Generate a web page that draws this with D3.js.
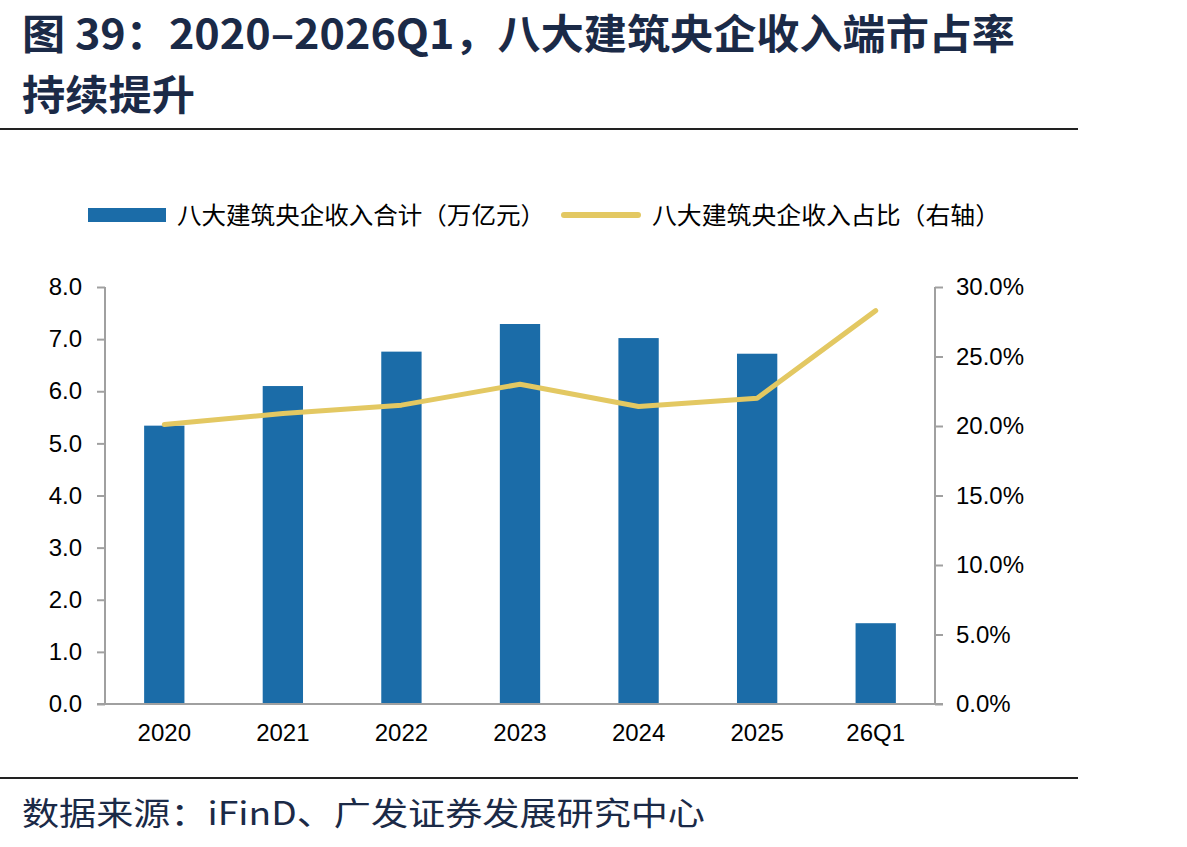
<!DOCTYPE html>
<html><head><meta charset="utf-8">
<script src="https://cdn.jsdelivr.net/npm/d3@7"></script>
<style>body{margin:0;background:#fff;} svg{display:block;}</style>
</head><body>
<svg id="c" width="1187" height="847"></svg>
<script>
const categories = ["2020","2021","2022","2023","2024","2025","26Q1"];
const revenue = [5.34, 6.10, 6.76, 7.29, 7.02, 6.72, 1.55];
const share = [20.1, 20.9, 21.5, 23.0, 21.4, 22.0, 28.3];
const leftTicks = [0,1,2,3,4,5,6,7,8];
const rightTicks = [0,5,10,15,20,25,30];
const titleLines = ["图 39：2020–2026Q1，八大建筑央企收入端市占率","持续提升"];
const legendLabels = ["八大建筑央企收入合计（万亿元）","八大建筑央企收入占比（右轴）"];
const sourceText = "数据来源：iFinD、广发证券发展研究中心";

const svg = d3.select("#c");
const cjk = "'Noto Sans CJK SC', sans-serif";
const latin = "'Liberation Sans', Arial, sans-serif";
const titleColor = "#1b2a47";
const barColor = "#1b6ca8";
const lineColor = "#e3c862";
const axisColor = "#a0a0a0";

// Title
const tLen = [993, 173];
svg.selectAll("text.title").data(titleLines).enter().append("text")
  .attr("class","title")
  .attr("x", 22).attr("y", (d,i)=> 49 + i*61)
  .attr("font-family", cjk).attr("font-weight", 700).attr("font-size", 41)
  .attr("fill", titleColor)
  .attr("textLength",(d,i)=>tLen[i]).attr("lengthAdjust","spacingAndGlyphs")
  .text(d=>d);
svg.append("line").attr("x1",0).attr("x2",1078).attr("y1",129).attr("y2",129)
  .attr("stroke","#222").attr("stroke-width",2);
svg.append("line").attr("x1",0).attr("x2",1078).attr("y1",778).attr("y2",778)
  .attr("stroke","#222").attr("stroke-width",2);
svg.append("text").attr("x",22).attr("y",825)
  .attr("font-family", cjk).attr("font-size",32).attr("fill",titleColor)
  .attr("textLength",683).attr("lengthAdjust","spacingAndGlyphs").text(sourceText);

// Scales
const x0 = 105, x1 = 935, yTop = 287, yBot = 704;
const x = d3.scaleBand().domain(categories).range([x0,x1]).paddingInner(0.66).paddingOuter(0.33);
const yL = d3.scaleLinear().domain([0,8]).range([yBot,yTop]);
const yR = d3.scaleLinear().domain([0,30]).range([yBot,yTop]);

// Bars
svg.append("g").selectAll("rect").data(revenue).enter().append("rect")
  .attr("x",(d,i)=>x(categories[i])).attr("width",x.bandwidth())
  .attr("y",d=>yL(d)).attr("height",d=>yBot-yL(d))
  .attr("fill",barColor);

// Axes
const gL = svg.append("g").attr("transform",`translate(${x0},0)`)
  .call(d3.axisLeft(yL).tickValues(leftTicks).tickFormat(d3.format(".1f")).tickSize(8).tickPadding(15));
const gR = svg.append("g").attr("transform",`translate(${x1},0)`)
  .call(d3.axisRight(yR).tickValues(rightTicks).tickFormat(d=>d3.format(".1f")(d)+"%").tickSize(8).tickPadding(13));
[gL,gR].forEach(g=>{
  g.select(".domain").attr("stroke",axisColor).attr("stroke-width",2);
  g.selectAll(".tick line").attr("stroke",axisColor).attr("stroke-width",2);
  g.selectAll(".tick text").attr("font-family",latin).attr("font-size",24).attr("fill","#000");
});
gL.select(".domain").attr("d",`M0,${yTop}V${yBot}`);
gR.select(".domain").attr("d",`M0,${yTop}V${yBot}`);
const gX = svg.append("g").attr("transform",`translate(0,${yBot})`)
  .call(d3.axisBottom(x).tickSize(0).tickPadding(20));
gX.select(".domain").attr("stroke",axisColor).attr("stroke-width",2).attr("d",`M${x0-8},0H${x1+8}`);
gX.selectAll(".tick text").attr("font-family",latin).attr("font-size",24).attr("fill","#000");

// Line
const line = d3.line().x((d,i)=>x(categories[i])+x.bandwidth()/2).y(d=>yR(d));
svg.append("path").datum(share).attr("d",line).attr("fill","none")
  .attr("stroke",lineColor).attr("stroke-width",5).attr("stroke-linecap","round").attr("stroke-linejoin","round");

// Legend
const lg = svg.append("g");
lg.append("rect").attr("x",88).attr("y",208).attr("width",78).attr("height",14).attr("fill",barColor);
lg.append("text").attr("x",177).attr("y",224).attr("font-family",cjk).attr("font-size",24).attr("fill","#000")
  .attr("textLength",368).attr("lengthAdjust","spacingAndGlyphs").text(legendLabels[0]);
lg.append("line").attr("x1",564).attr("x2",638).attr("y1",215).attr("y2",215).attr("stroke",lineColor).attr("stroke-width",6).attr("stroke-linecap","round");
lg.append("text").attr("x",652).attr("y",224).attr("font-family",cjk).attr("font-size",24).attr("fill","#000")
  .attr("textLength",348).attr("lengthAdjust","spacingAndGlyphs").text(legendLabels[1]);
</script>
</body></html>
